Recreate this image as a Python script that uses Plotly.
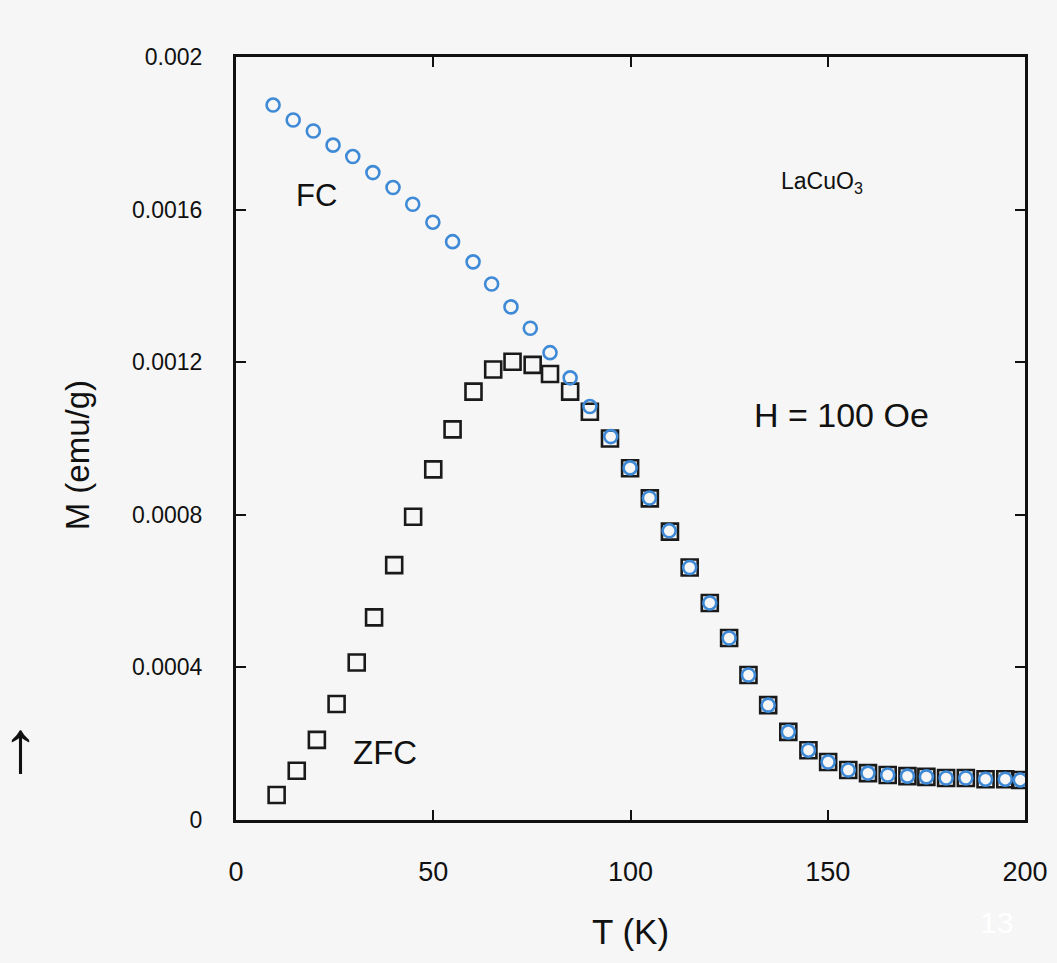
import plotly.graph_objects as go

# FC (field-cooled) data, circles
T_fc = [9.4, 14.5, 19.6, 24.6, 29.6, 34.7, 39.8, 44.8, 49.9, 54.9, 60.1, 64.8, 69.7, 74.6,
        79.6, 84.7, 89.7, 95.0, 99.9, 104.8, 109.8, 115.0, 120.1, 125.0, 129.9, 134.9,
        140.0, 145.1, 150.1, 155.2, 160.2, 165.2, 170.2, 175.0, 180.0, 185.0, 190.0, 195.0, 198.8]
M_fc = [0.001874, 0.001835, 0.001806, 0.001769, 0.001739, 0.001697, 0.001658, 0.001614,
        0.001567, 0.001516, 0.001463, 0.001405, 0.001345, 0.001289, 0.001225, 0.001159,
        0.001084, 0.001005, 0.000923, 0.000844, 0.000758, 0.000662, 0.000569, 0.000477,
        0.000380, 0.000301, 0.000231, 0.000183, 0.000152, 0.000131, 0.000123, 0.000118,
        0.000115, 0.000113, 0.000110, 0.000110, 0.000107, 0.000107, 0.000105]

# ZFC (zero-field-cooled) data, squares
T_zfc = [10.3, 15.4, 20.5, 25.5, 30.6, 35.0, 40.1, 44.9, 50.0, 54.9, 60.2, 65.2, 70.1, 75.2,
         79.6, 84.7, 89.7, 94.8, 99.9, 104.9, 110.0, 115.0, 120.1, 125.0, 129.9, 134.9,
         140.0, 145.1, 150.1, 155.2, 160.2, 165.2, 170.2, 175.0, 180.0, 185.0, 190.0, 195.0, 198.8]
M_zfc = [0.0000655, 0.000129, 0.000210, 0.000304, 0.000413, 0.000531, 0.000668, 0.000795,
         0.000919, 0.001024, 0.001123, 0.001181, 0.001201, 0.001193, 0.001169, 0.001123,
         0.001070, 0.001000, 0.000922, 0.000843, 0.000756, 0.000662, 0.000569, 0.000477,
         0.000380, 0.000301, 0.000231, 0.000183, 0.000152, 0.000131, 0.000123, 0.000118,
         0.000115, 0.000113, 0.000110, 0.000110, 0.000107, 0.000107, 0.000105]

x_tickvals = [0, 50, 100, 150, 200]
x_ticktext = ["0", "50", "100", "150", "200"]
y_tickvals = [0, 0.0004, 0.0008, 0.0012, 0.0016, 0.002]
y_ticktext = ["0", "0.0004", "0.0008", "0.0012", "0.0016", "0.002"]

BG = "#f6f6f6"
FONT = "Liberation Sans, Arial, sans-serif"
INK = "#111111"

fig = go.Figure()
fig.add_trace(go.Scatter(
    x=T_zfc, y=M_zfc, mode="markers", name="ZFC",
    marker=dict(symbol="square-open", size=16, color="#1a1a1a", line=dict(width=2.6, color="#1a1a1a")),
    cliponaxis=True, showlegend=False))
fig.add_trace(go.Scatter(
    x=T_fc, y=M_fc, mode="markers", name="FC",
    marker=dict(symbol="circle-open", size=13, color="#3f8ad6", line=dict(width=2.6, color="#3f8ad6")),
    cliponaxis=True, showlegend=False))

axis_common = dict(
    showline=True, linecolor=INK, linewidth=3, mirror="ticks",
    ticks="inside", ticklen=10, tickwidth=2, tickcolor=INK,
    showgrid=False, zeroline=False, automargin=False,
)

fig.update_xaxes(range=[0, 200], tickvals=x_tickvals, ticktext=x_ticktext,
                 ticklabelstandoff=26, tickfont=dict(family=FONT, size=27, color=INK), **axis_common,
                 title=dict(text="T (K)", font=dict(family=FONT, size=35, color=INK), standoff=34))
fig.update_yaxes(range=[0, 0.002], tickvals=y_tickvals, ticktext=y_ticktext,
                 ticklabelstandoff=26, tickfont=dict(family=FONT, size=23, color=INK), **axis_common)

ann_font = dict(family=FONT, color=INK)
# y-axis title as a rotated annotation (offset like the original)
fig.add_annotation(xref="paper", yref="paper", x=-0.2015, y=0.478, xanchor="center", yanchor="middle",
                   text="M (emu/g)", textangle=-90, showarrow=False, font=dict(size=33, **ann_font))
fig.add_annotation(x=20.5, y=0.001638, text="FC", showarrow=False, font=dict(size=31, **ann_font))
fig.add_annotation(x=37.8, y=0.000178, text="ZFC", showarrow=False, font=dict(size=33, **ann_font))
fig.add_annotation(x=148.5, y=0.00167, text="LaCuO<sub>3</sub>", showarrow=False, font=dict(size=23, **ann_font))
fig.add_annotation(x=153.4, y=0.001062, text="H = 100 Oe", showarrow=False, font=dict(size=34, **ann_font))
fig.add_annotation(xref="paper", yref="paper", x=-0.299, xanchor="left", y=0.039, yanchor="bottom",
                   text="↑", showarrow=False, font=dict(size=74, family=FONT, color=INK))
fig.add_annotation(xref="paper", yref="paper", x=0.9645, y=-0.134, xanchor="center", yanchor="middle",
                   text="13", showarrow=False, font=dict(size=30, family=FONT, color="#ffffff"))

fig.update_layout(
    width=1057, height=963,
    margin=dict(l=236, r=32, t=57, b=143),
    paper_bgcolor=BG, plot_bgcolor=BG,
    showlegend=False,
)

fig.write_html("out.html")
